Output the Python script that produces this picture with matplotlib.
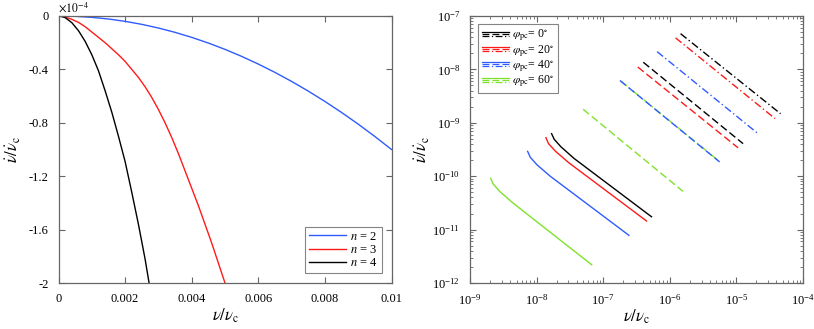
import matplotlib
matplotlib.use("Agg")
import matplotlib.pyplot as plt
from matplotlib.lines import Line2D
from matplotlib.legend_handler import HandlerBase
from matplotlib.ticker import FixedLocator, NullFormatter, LogFormatterSciNotation

plt.rcParams['font.family'] = 'serif'
plt.rcParams['font.serif'] = ['Liberation Serif', 'DejaVu Serif']
plt.rcParams['mathtext.fontset'] = 'stix'
plt.rcParams['axes.unicode_minus'] = False

# ---------------- data: left panel (y in units of 1e-4) ----------------
x_n2 = [0, 0.0005, 0.001, 0.0015, 0.002, 0.0025, 0.003, 0.0035, 0.004, 0.0045, 0.005,
        0.0055, 0.006, 0.0065, 0.007, 0.0075, 0.008, 0.0085, 0.009, 0.0095, 0.010]
y_n2 = [0, -0.0025, -0.01, -0.0225, -0.04, -0.0625, -0.09, -0.1225, -0.16, -0.2025, -0.25,
        -0.3025, -0.36, -0.4225, -0.49, -0.5625, -0.64, -0.7225, -0.81, -0.9025, -1.00]

x_n3 = [0, 0.0002, 0.0004, 0.0006, 0.0008, 0.001, 0.0012, 0.0014, 0.0016, 0.0018, 0.002,
        0.0022, 0.0024, 0.0026, 0.0028, 0.003, 0.0032, 0.0034, 0.0036, 0.0038, 0.004,
        0.0042, 0.0044, 0.0046, 0.0048, 0.005]
y_n3 = [0, -0.007, -0.025, -0.048, -0.08, -0.12, -0.16, -0.20, -0.245, -0.29, -0.34,
        -0.40, -0.46, -0.53, -0.61, -0.70, -0.80, -0.91, -1.03, -1.16, -1.29,
        -1.42, -1.56, -1.70, -1.85, -2.00]

x_n4 = [0, 0.0001, 0.0002, 0.0004, 0.0006, 0.0008, 0.001, 0.0012, 0.0014, 0.0016, 0.0018,
        0.002, 0.0022, 0.0024, 0.0026, 0.00272]
y_n4 = [0, -0.004, -0.012, -0.05, -0.11, -0.19, -0.29, -0.41, -0.56, -0.72, -0.90,
        -1.09, -1.32, -1.56, -1.82, -2.00]

left_labels = ['$n$ = 2', '$n$ = 3', '$n$ = 4']
left_yticks = [0, -0.4, -0.8, -1.2, -1.6, -2]
left_yticklabels = ['0', '-0.4', '-0.8', '-1.2', '-1.6', '-2']
left_xticks = [0, 0.002, 0.004, 0.006, 0.008, 0.01]
left_xticklabels = ['0', '0.002', '0.004', '0.006', '0.008', '0.01']

# ---------------- data: right panel ----------------
# solid lines
k_sol_x = [1.68e-8, 1.84e-8, 2.32e-8, 3.67e-8, 5.31e-7]
k_sol_y = [6.25e-10, 4.90e-10, 3.55e-10, 2.14e-10, 1.74e-11]
r_sol_x = [1.38e-8, 1.51e-8, 1.91e-8, 3.02e-8, 4.47e-7]
r_sol_y = [5.27e-10, 4.07e-10, 2.95e-10, 1.80e-10, 1.45e-11]
b_sol_x = [7.33e-9, 8.04e-9, 1.01e-8, 1.60e-8, 2.43e-7]
b_sol_y = [2.92e-10, 2.26e-10, 1.64e-10, 1.00e-10, 7.82e-12]
g_sol_x = [2.04e-9, 2.24e-9, 2.82e-9, 4.47e-9, 6.71e-8]
g_sol_y = [9.12e-11, 7.08e-11, 5.13e-11, 3.11e-11, 2.20e-12]
# dashed lines
k_das_x = [4.0e-7, 1.26e-5]
k_das_y = [1.36e-8, 4.07e-10]
r_das_x = [3.3e-7, 1.06e-5]
r_das_y = [1.11e-8, 3.4e-10]
b_das_x = [1.78e-7, 5.6e-6]
b_das_y = [6.2e-9, 1.85e-10]
g_das_x = [5.0e-8, 1.58e-6]
g_das_y = [1.79e-9, 5.2e-11]
# dash-dot lines
k_dd_x = [1.45e-6, 4.6e-5]
k_dd_y = [4.67e-8, 1.48e-9]
r_dd_x = [1.22e-6, 3.8e-5]
r_dd_y = [3.9e-8, 1.2e-9]
b_dd_x = [6.45e-7, 2.04e-5]
b_dd_y = [2.15e-8, 6.5e-10]
g_dd_x = [1.85e-7, 5.6e-6]
g_dd_y = [6.0e-9, 1.88e-10]

right_labels = [r'$\varphi_{\rm pc}$= 0$^{\circ}$', r'$\varphi_{\rm pc}$= 20$^{\circ}$',
                r'$\varphi_{\rm pc}$= 40$^{\circ}$', r'$\varphi_{\rm pc}$= 60$^{\circ}$']
right_xdecades = [-9, -8, -7, -6, -5, -4]
right_ydecades = [-12, -11, -10, -9, -8, -7]

C_BLUE = '#2f5bff'
C_RED = '#ff1a1a'
C_BLACK = '#000000'
C_GREEN = '#7fe22a'
SPINE = '#666666'

DASHED = (0, (5.5, 2.5))
DASHDOT = (0, (5.5, 2.0, 1.0, 2.0))

fig = plt.figure(figsize=(8.14, 3.29), dpi=100)
axL = fig.add_axes([58.5 / 814, 1 - 283 / 329, 333 / 814, 267 / 329])
axR = fig.add_axes([470 / 814, 1 - 283 / 329, 333 / 814, 267 / 329])

def style_axes(ax, pad):
    for s in ax.spines.values():
        s.set_color(SPINE)
        s.set_linewidth(0.9)
    ax.tick_params(which='both', direction='in', top=True, right=True,
                   color=SPINE, labelsize=9, labelcolor='black')
    ax.tick_params(which='major', length=4, width=0.8, pad=pad)
    ax.tick_params(which='minor', length=2, width=0.6)

# ---------------- left ----------------
axL.plot(x_n2, y_n2, color=C_BLUE, lw=1.0, label=left_labels[0])
axL.plot(x_n3, y_n3, color=C_RED, lw=1.0, label=left_labels[1])
axL.plot(x_n4, y_n4, color=C_BLACK, lw=1.0, label=left_labels[2])
axL.set_xlim(0, 0.01)
axL.set_ylim(-2, 0)
axL.set_xticks(left_xticks)
axL.set_xticklabels(left_xticklabels)
axL.set_yticks(left_yticks)
axL.set_yticklabels(left_yticklabels)
style_axes(axL, 7)
axL.set_xlabel(r'$\nu/\nu_{\rm c}$', fontsize=12, labelpad=1)
axL.set_ylabel(r'$\dot{\nu}/\dot{\nu}_{\rm c}$', fontsize=12, labelpad=4)
axL.text(0.0, 1.004, r'$\times10^{-4}$', transform=axL.transAxes, ha='left', va='bottom',
         fontsize=8.5)
legL = axL.legend(loc='lower right', fontsize=9, frameon=True, fancybox=False,
                  edgecolor=SPINE, borderaxespad=0.8, handlelength=3.0, handletextpad=0.3,
                  labelspacing=0.1, borderpad=0.3)
legL.get_frame().set_linewidth(0.8)

# ---------------- right ----------------
axR.set_xscale('log')
axR.set_yscale('log')
# solid
axR.plot(k_sol_x, k_sol_y, color=C_BLACK, lw=1.0)
axR.plot(r_sol_x, r_sol_y, color=C_RED, lw=1.0)
axR.plot(b_sol_x, b_sol_y, color=C_BLUE, lw=1.0)
axR.plot(g_sol_x, g_sol_y, color=C_GREEN, lw=1.0)
# dashed
axR.plot(k_das_x, k_das_y, color=C_BLACK, lw=1.0, ls=DASHED)
axR.plot(r_das_x, r_das_y, color=C_RED, lw=1.0, ls=DASHED)
axR.plot(g_dd_x, g_dd_y, color=C_GREEN, lw=1.0, ls=DASHDOT, zorder=2)
axR.plot(b_das_x, b_das_y, color=C_BLUE, lw=1.0, ls=DASHED, zorder=2.1)
axR.plot(g_das_x, g_das_y, color=C_GREEN, lw=1.0, ls=DASHED)
# dash-dot
axR.plot(k_dd_x, k_dd_y, color=C_BLACK, lw=1.0, ls=DASHDOT)
axR.plot(r_dd_x, r_dd_y, color=C_RED, lw=1.0, ls=DASHDOT)
axR.plot(b_dd_x, b_dd_y, color=C_BLUE, lw=1.0, ls=DASHDOT)

axR.set_xlim(10.0 ** right_xdecades[0], 10.0 ** right_xdecades[-1])
axR.set_ylim(10.0 ** right_ydecades[0], 10.0 ** right_ydecades[-1])
xmaj = [10.0 ** d for d in right_xdecades]
ymaj = [10.0 ** d for d in right_ydecades]
xmin = [m * 10.0 ** d for d in right_xdecades[:-1] for m in range(2, 10)]
ymin = [m * 10.0 ** d for d in right_ydecades[:-1] for m in range(2, 10)]
axR.xaxis.set_major_locator(FixedLocator(xmaj))
axR.yaxis.set_major_locator(FixedLocator(ymaj))
axR.xaxis.set_minor_locator(FixedLocator(xmin))
axR.yaxis.set_minor_locator(FixedLocator(ymin))
axR.xaxis.set_major_formatter(LogFormatterSciNotation())
axR.yaxis.set_major_formatter(LogFormatterSciNotation())
axR.xaxis.set_minor_formatter(NullFormatter())
axR.yaxis.set_minor_formatter(NullFormatter())
style_axes(axR, 7)
axR.set_xlabel(r'$\nu/\nu_{\rm c}$', fontsize=12, labelpad=0)
axR.set_ylabel(r'$\dot{\nu}/\dot{\nu}_{\rm c}$', fontsize=12, labelpad=0)


class TripleHandler(HandlerBase):
    def create_artists(self, legend, orig_handle, xdescent, ydescent, width, height,
                       fontsize, trans):
        color = orig_handle.get_color()
        arts = []
        yc = height / 2.0 - ydescent
        for off, ls in zip([1.4, 0.0, -1.4], ['-', DASHED, DASHDOT]):
            l = Line2D([-xdescent, width - xdescent], [yc + off, yc + off], color=color,
                       lw=0.9, linestyle=ls, transform=trans)
            arts.append(l)
        return arts


proxies = [Line2D([], [], color=c) for c in [C_BLACK, C_RED, C_BLUE, C_GREEN]]
legR = axR.legend(proxies, right_labels, loc='upper left', fontsize=8.5, frameon=True,
                  fancybox=False, edgecolor=SPINE, borderaxespad=0.7, handlelength=2.3,
                  handletextpad=0.3, labelspacing=0.0, borderpad=0.3,
                  handler_map={Line2D: TripleHandler()})
legR.get_frame().set_linewidth(0.8)

fig.savefig('out.png', dpi=100)
